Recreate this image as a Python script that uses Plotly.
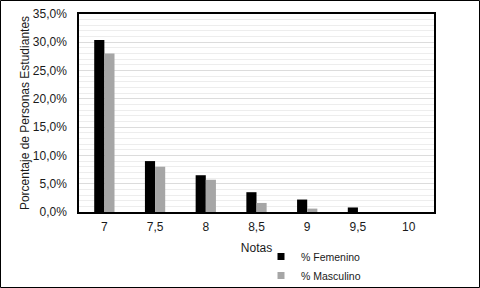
import plotly.graph_objects as go

notas = ["7", "7,5", "8", "8,5", "9", "9,5", "10"]
femenino = [30.4, 9.0, 6.5, 3.5, 2.2, 0.8, 0.0]
masculino = [28.0, 8.0, 5.7, 1.6, 0.6, 0.0, 0.0]
y_ticks = [0, 5, 10, 15, 20, 25, 30, 35]
y_tick_labels = ["0,0%", "5,0%", "10,0%", "15,0%", "20,0%", "25,0%", "30,0%", "35,0%"]

W, H = 480, 288
L, R, T, B = 79, 46, 14, 76
pw, ph = W - L - R, H - T - B

C_F, C_M = "black", "#a6a6a6"

fig = go.Figure()
fig.add_trace(go.Bar(x=notas, y=femenino, name="% Femenino", marker_color=C_F,
                     marker_line_width=0, showlegend=False))
fig.add_trace(go.Bar(x=notas, y=masculino, name="% Masculino", marker_color=C_M,
                     marker_line_width=0, showlegend=False))
# legend entries with small square keys
fig.add_trace(go.Scatter(x=[None], y=[None], mode="markers", name="% Femenino",
                         marker=dict(symbol="square", size=7, color=C_F)))
fig.add_trace(go.Scatter(x=[None], y=[None], mode="markers", name="% Masculino",
                         marker=dict(symbol="square", size=7, color=C_M)))

font = dict(family="Liberation Sans, Arial", size=12, color="#1a1a1a")
lfont = dict(family="Liberation Sans, Arial", size=10.5, color="#1a1a1a")
fig.update_layout(
    width=W, height=H,
    margin=dict(l=L, r=R, t=T, b=B, autoexpand=False),
    paper_bgcolor="white", plot_bgcolor="white",
    font=font,
    barmode="group", bargap=0.6, bargroupgap=0,
    showlegend=True,
    legend=dict(x=(261 - L) / pw, y=(T + ph - 242) / ph, xanchor="left", yanchor="top",
                orientation="v", font=lfont, itemwidth=30, tracegroupgap=5,
                bgcolor="rgba(0,0,0,0)"),
    xaxis=dict(type="category", showline=True, linecolor="black", linewidth=1.5, mirror=True,
               ticks="", ticklabelstandoff=3, automargin=False,
               title=dict(text="Notas", standoff=10, font=font)),
    yaxis=dict(range=[0, 35], tickvals=y_ticks, ticktext=y_tick_labels,
               showline=True, linecolor="black", linewidth=1.5, mirror=True,
               ticks="", ticklabelstandoff=8, automargin=False,
               showgrid=True, gridcolor="#dcdcdc", gridwidth=1,
               minor=dict(dtick=1, showgrid=True, gridcolor="#ededed", gridwidth=1),
               title=dict(text="Porcentaje de Personas Estudiantes", standoff=1, font=font)),
)
fig.add_shape(type="rect", xref="paper", yref="paper",
              x0=-(L - 0.5) / pw, x1=(pw + R - 0.5) / pw,
              y0=-(B - 0.5) / ph, y1=(ph + T - 0.5) / ph,
              line=dict(color="black", width=1), layer="above")
fig.write_html("out.html", config={"displayModeBar": False},
               post_script="document.body.style.margin='0';")
